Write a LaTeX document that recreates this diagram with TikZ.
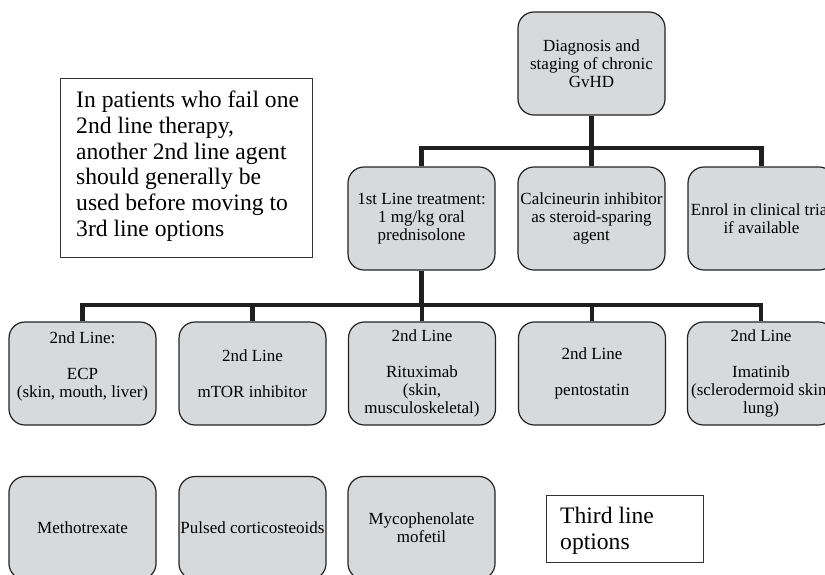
\documentclass[tikz,border=0pt]{standalone}
\usepackage{fontspec}
\setmainfont{Liberation Serif}
\definecolor{boxfill}{RGB}{216,217,219}
\definecolor{edge}{RGB}{35,35,35}
\begin{document}
\begin{tikzpicture}[x=1pt,y=-1pt,
  rbox/.style={draw=edge, line width=1.2pt, fill=boxfill, rounded corners=16pt,
    minimum width=147pt, minimum height=103pt, inner sep=0pt, align=center,
    font=\fontsize{17}{17.8}\selectfont},
  conn/.style={line width=4.5pt, draw=black!88},
  notebox/.style={draw=black!80, line width=1pt, inner sep=0pt},
  notetxt/.style={inner sep=0pt, align=left, font=\fontsize{23.6}{25.7}\selectfont}]
\useasboundingbox (0,0) rectangle (825,574);
\clip (0,0) rectangle (825,574);
% top
\node[rbox] (diag) at (591.5,63.5) {Diagnosis and\\staging of chronic\\GvHD};
% first row
\node[rbox] (first) at (421.5,218.5) {1st Line treatment:\\1 mg/kg oral\\prednisolone};
\node[rbox] (calc) at (591.5,218.5) {Calcineurin inhibitor\\as steroid-sparing\\agent};
\node[rbox] (enrol) at (761.5,218.5) {Enrol in clinical trial\\if available};
% second row
\node[rbox] (ecp) at (82.5,373.5) {2nd Line:\\ \mbox{}\\ECP\\(skin, mouth, liver)\\ \mbox{}};
\node[rbox] (mtor) at (252.5,373.5) {2nd Line\\ \mbox{}\\mTOR inhibitor};
\node[rbox] (ritux) at (422,373.5) {2nd Line\\ \mbox{}\\Rituximab\\(skin,\\musculoskeletal)};
\node[rbox] (pento) at (592,373.5) {2nd Line\\ \mbox{}\\pentostatin};
\node[rbox] (ima) at (761,373.5) {2nd Line\\ \mbox{}\\Imatinib\\(sclerodermoid skin,\\lung)};
% third row
\node[rbox] (mtx) at (82.5,528) {Methotrexate};
\node[rbox] (pulse) at (252.5,528) {Pulsed corticosteoids};
\node[rbox] (mmf) at (421.5,528) {Mycophenolate\\mofetil};
% note boxes
\node[notebox, minimum width=252pt, minimum height=179pt, anchor=north west] (note) at (60,78) {};
\node[notetxt, anchor=north west] (notetext) at (76,91) {In patients who fail one\\2nd line therapy,\\another 2nd line agent\\should generally be\\used before moving to\\3rd line options};
\node[notebox, minimum width=157pt, minimum height=67pt, anchor=north west] (third) at (546,495) {};
\node[notetxt, anchor=north west] (thirdtext) at (560,507) {Third line\\options};
% connectors
\coordinate (bar1) at (0,148);
\coordinate (bar2) at (0,305);
\draw[conn] (diag.south) -- (diag.south |- bar1);
\draw[conn] (first.north) -- (first.north |- bar1) -- (enrol.north |- bar1) -- (enrol.north);
\draw[conn] (calc.north) -- (calc.north |- bar1);
\draw[conn] (first.south) -- (first.south |- bar2);
\draw[conn] (ecp.north) -- (ecp.north |- bar2) -- (ima.north |- bar2) -- (ima.north);
\draw[conn] (mtor.north) -- (mtor.north |- bar2);
\draw[conn] (ritux.north) -- (ritux.north |- bar2);
\draw[conn] (pento.north) -- (pento.north |- bar2);
\end{tikzpicture}
\end{document}
